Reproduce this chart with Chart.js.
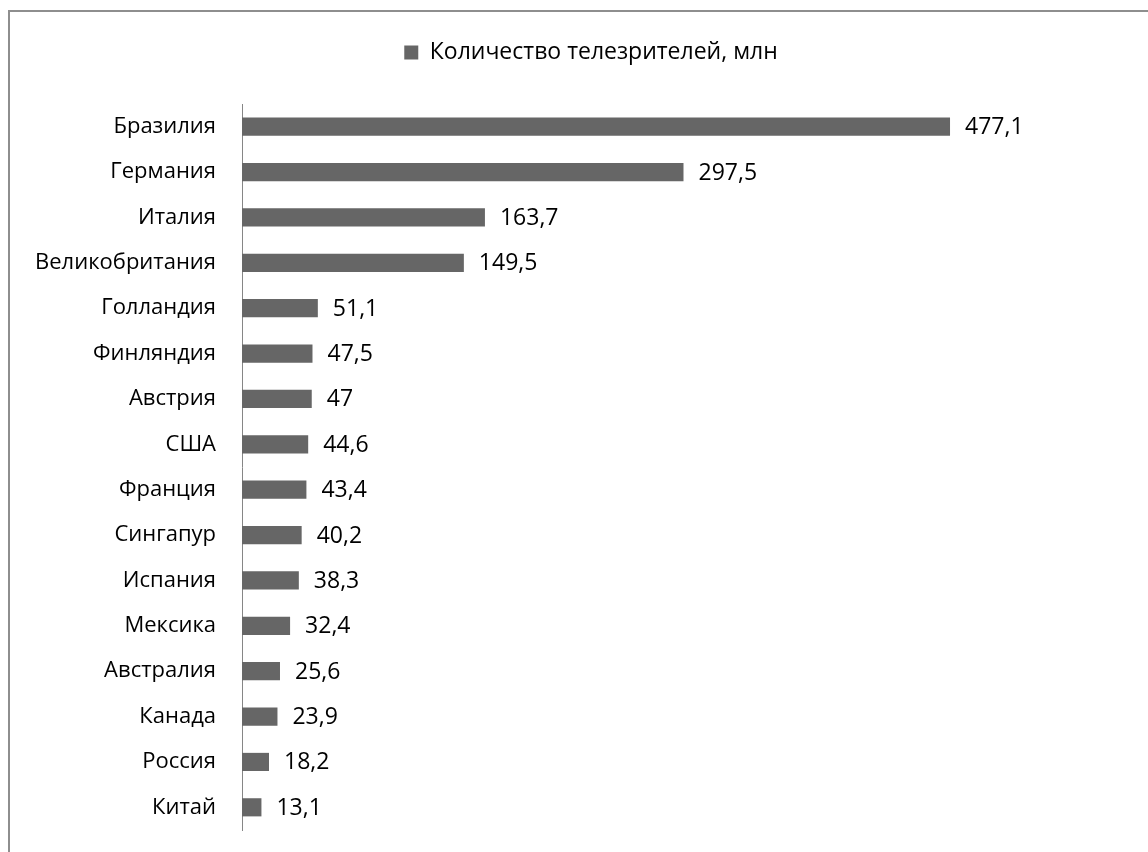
<!DOCTYPE html>
<html>
<head>
<meta charset="utf-8">
<script src="https://cdn.jsdelivr.net/npm/chart.js@4"></script>
<style>
  html, body { margin: 0; padding: 0; background: #fff; overflow: hidden; }
  #wrap { position: absolute; left: 0; top: 0; width: 1148px; height: 852px; }
  #frame { position: absolute; left: 8px; top: 10px; width: 1300px; height: 1000px;
           border-top: 2px solid #8e8e8e; border-left: 2px solid #8e8e8e; box-sizing: border-box; }
  canvas { position: absolute; left: 0; top: 0; }
</style>
</head>
<body>
<div id="wrap">
  <div id="frame"></div>
  <canvas id="c" width="1148" height="852"></canvas>
</div>
<script>
const categories = ["Бразилия","Германия","Италия","Великобритания","Голландия","Финляндия","Австрия","США","Франция","Сингапур","Испания","Мексика","Австралия","Канада","Россия","Китай"];
const viewers = [477.1, 297.5, 163.7, 149.5, 51.1, 47.5, 47, 44.6, 43.4, 40.2, 38.3, 32.4, 25.6, 23.9, 18.2, 13.1];
const seriesName = "Количество телезрителей, млн";

const FONT = "'Open Sans', sans-serif";

const dataLabels = {
  id: 'dataLabels',
  afterDatasetsDraw(chart) {
    const ctx = chart.ctx;
    const meta = chart.getDatasetMeta(0);
    ctx.save();
    ctx.font = "23px " + FONT;
    ctx.fillStyle = "#000";
    ctx.textAlign = "left";
    ctx.textBaseline = "middle";
    meta.data.forEach((bar, i) => {
      const v = chart.data.datasets[0].data[i];
      ctx.fillText(String(v).replace('.', ','), bar.x + 15, bar.y + 1);
    });
    ctx.restore();
  }
};

const legendSpacer = {
  id: 'legendSpacer',
  beforeInit(chart) {
    const orig = chart.legend.fit;
    chart.legend.fit = function () {
      orig.bind(chart.legend)();
      this.height += 30;
    };
  }
};

new Chart(document.getElementById('c'), {
  type: 'bar',
  data: {
    labels: categories,
    datasets: [{
      label: seriesName,
      data: viewers,
      backgroundColor: '#666666',
      borderWidth: 0,
      barPercentage: 0.4,
      categoryPercentage: 1.0
    }]
  },
  options: {
    indexAxis: 'y',
    responsive: false,
    animation: false,
    layout: { padding: { top: 31, right: 0, bottom: 22, left: 34 } },
    plugins: {
      legend: {
        display: true,
        position: 'top',
        labels: {
          font: { family: FONT, size: 23 },
          color: '#000',
          boxWidth: 14,
          boxHeight: 14,
          padding: 10,
          useBorderRadius: false
        }
      },
      tooltip: { enabled: false },
      title: { display: false }
    },
    scales: {
      x: { display: false, min: 0, max: 610.5 },
      y: {
        afterFit(scale) { scale.width = 208; },
        grid: { display: true, drawOnChartArea: false, drawTicks: true, tickLength: 26, color: 'rgba(0,0,0,0)' },
        border: { display: true, color: '#868686', width: 1 },
        ticks: {
          font: { family: FONT, size: 22 },
          color: '#000',
          padding: 0
        }
      }
    }
  },
  plugins: [dataLabels, legendSpacer]
});
</script>
</body>
</html>
